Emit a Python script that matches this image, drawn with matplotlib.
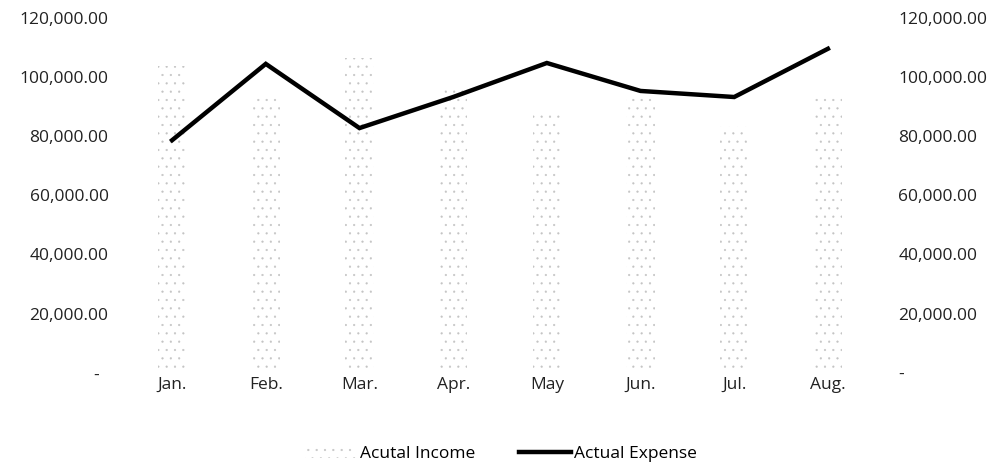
import matplotlib
matplotlib.use("Agg")
import matplotlib.pyplot as plt
from matplotlib.ticker import FuncFormatter
from matplotlib.lines import Line2D
from matplotlib.patches import Patch

plt.rcParams['font.family'] = ['Open Sans', 'DejaVu Sans']
plt.rcParams['hatch.linewidth'] = 0.35

months = ['Jan.', 'Feb.', 'Mar.', 'Apr.', 'May', 'Jun.', 'Jul.', 'Aug.']
income = [103700, 94600, 106400, 96000, 87800, 93500, 83400, 93500]
expense = [78600, 104400, 82700, 93200, 104700, 95250, 93200, 109500]


def fmt_left(v, pos):
    if abs(v) < 1:
        return '-  '
    return '{:,.2f}'.format(v)


def fmt_right(v, pos):
    if abs(v) < 1:
        return '-'
    return '{:,.2f}'.format(v)


fig = plt.figure(figsize=(10.02, 4.66), dpi=100)
ax = fig.add_axes([0.125, 0.20, 0.748, 0.762])
ax2 = ax.twinx()

x = range(len(months))
ax.bar(x, income, width=0.3, facecolor='none', edgecolor='#c4c4c4',
       linewidth=0, hatch='..', zorder=1)
ax2.plot(x, expense, color='black', lw=3.2, solid_joinstyle='miter', zorder=3)

for a, f in ((ax, fmt_left), (ax2, fmt_right)):
    a.set_ylim(0, 120000)
    a.set_yticks(range(0, 120001, 20000))
    a.yaxis.set_major_formatter(FuncFormatter(f))
    a.tick_params(length=0, labelsize=12.5, colors='#222222')
    for s in a.spines.values():
        s.set_visible(False)

ax.set_xlim(-0.5, len(months) - 0.5)
ax.set_xticks(list(x))
ax.set_xticklabels(months)
ax.tick_params(axis='x', pad=3)
ax.tick_params(axis='y', pad=12)
ax2.tick_params(axis='y', pad=17)

handles = [Patch(facecolor='none', edgecolor='#c4c4c4', linewidth=0, hatch='..'),
           Line2D([0], [0], color='black', lw=3.2)]
fig.legend(handles, ['Acutal Income', 'Actual Expense'], loc='lower center',
           bbox_to_anchor=(0.5, -0.025), ncol=2, frameon=False, fontsize=12.5,
           handlelength=3, columnspacing=2.5, handletextpad=0.2)

fig.savefig('out.png', dpi=100, facecolor='white')
